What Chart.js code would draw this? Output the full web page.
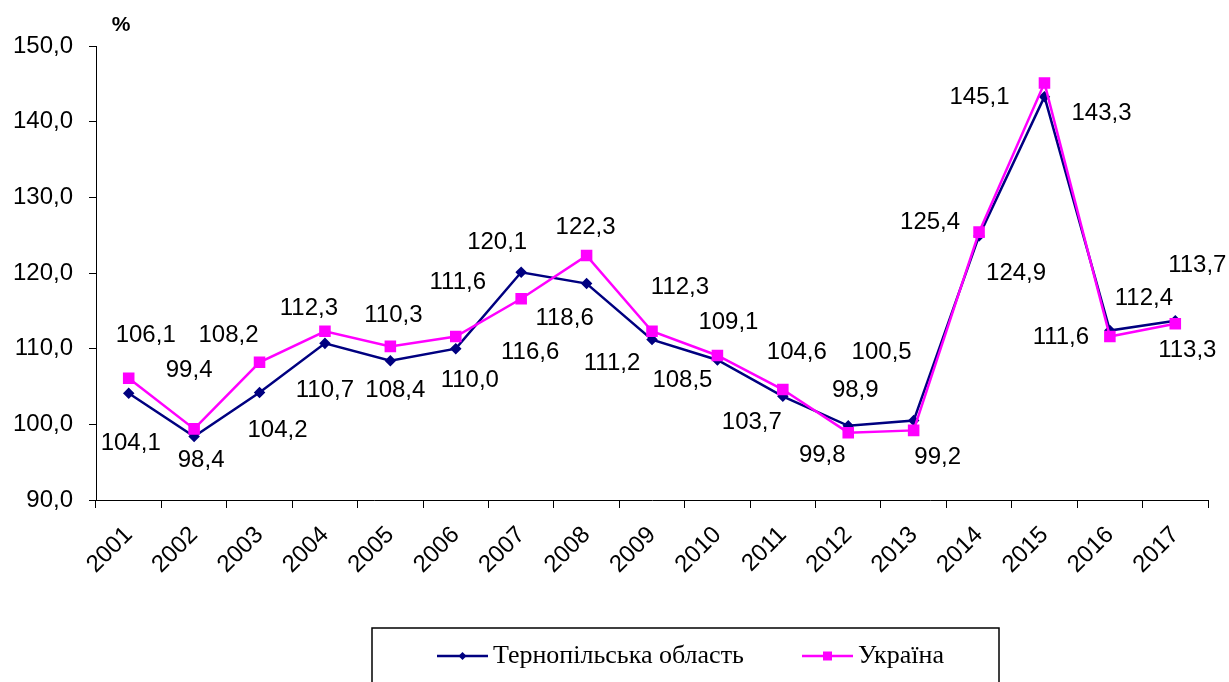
<!DOCTYPE html>
<html>
<head>
<meta charset="utf-8">
<script src="https://cdn.jsdelivr.net/npm/chart.js@4"></script>
<style>
  body { margin: 0; background: #fff; }
  #wrap { width: 1229px; height: 682px; }
</style>
</head>
<body>
<div id="wrap"><canvas id="chart" width="1229" height="682"></canvas></div>
<script>
// data
const years = ['2001','2002','2003','2004','2005','2006','2007','2008','2009','2010','2011','2012','2013','2014','2015','2016','2017'];
const ternopil = [104.1, 98.4, 104.2, 110.7, 108.4, 110.0, 120.1, 118.6, 111.2, 108.5, 103.7, 99.8, 100.5, 124.9, 143.3, 112.4, 113.7];
const ukraine  = [106.1, 99.4, 108.2, 112.3, 110.3, 111.6, 116.6, 122.3, 112.3, 109.1, 104.6, 98.9, 99.2, 125.4, 145.1, 111.6, 113.3];
const seriesNames = ['Тернопільська область', 'Україна'];

// where each value label sits relative to its point (px)
const ternopilLabelShift = [[2,50],[7,24],[18,38],[0,47],[5,30],[14,32],[-24,-30],[-22,35],[-40,24],[-35,20],[-31,26],[-26,30],[-32,-68],[37,37],[57,17],[34,-32],[22,-55]];
const ukraineLabelShift  = [[17,-43],[-5,-58],[-31,-27],[-16,-23],[3,-31],[2,-54],[9,54],[-1,-28],[28,-44],[11,-33],[14,-37],[7,-42],[24,27],[-49,-10],[-65,14],[-49,1],[12,27]];

const sans = 'Arial, "Liberation Sans", sans-serif';
const serif = '"Times New Roman", "Liberation Serif", serif';
const fmt = v => v.toFixed(1).replace('.', ',');

// value labels + "%" + boxed legend
const extras = {
    id: 'extras',
    afterDatasetsDraw(chart) {
        const ctx = chart.ctx;
        const shifts = [ternopilLabelShift, ukraineLabelShift];
        ctx.save();
        ctx.font = '24px ' + sans;
        ctx.fillStyle = '#000';
        ctx.textAlign = 'center';
        ctx.textBaseline = 'middle';
        chart.data.datasets.forEach((ds, di) => {
            chart.getDatasetMeta(di).data.forEach((pt, i) => {
                const s = shifts[di][i];
                ctx.fillText(fmt(ds.data[i]), pt.x + s[0], pt.y + s[1]);
            });
        });

        ctx.font = 'bold 21px ' + sans;
        ctx.fillText('%', 121, 25);

        // legend box (runs off the bottom like the original)
        ctx.lineWidth = 1.5;
        ctx.strokeStyle = '#000';
        ctx.strokeRect(372, 628, 627, 80);
        const items = [{ x: 437, ds: chart.data.datasets[0] }, { x: 802, ds: chart.data.datasets[1] }];
        items.forEach(it => {
            const y = 656;
            ctx.strokeStyle = it.ds.borderColor;
            ctx.lineWidth = 2.5;
            ctx.beginPath();
            ctx.moveTo(it.x, y);
            ctx.lineTo(it.x + 51, y);
            ctx.stroke();
            ctx.fillStyle = it.ds.borderColor;
            const cx = it.x + 25.5;
            if (it.ds.pointStyle === 'rect') {
                ctx.fillRect(cx - 4.5, y - 4.5, 9, 9);
            } else {
                ctx.beginPath();
                ctx.moveTo(cx - 4, y); ctx.lineTo(cx, y - 4); ctx.lineTo(cx + 4, y); ctx.lineTo(cx, y + 4);
                ctx.closePath();
                ctx.fill();
            }
            ctx.fillStyle = '#000';
            ctx.font = '26px ' + serif;
            ctx.textAlign = 'left';
            ctx.fillText(it.ds.label, it.x + 56, y);
        });
        ctx.restore();
    }
};

const ctx = document.getElementById('chart').getContext('2d');
const myChart = new Chart(ctx, {
    type: 'line',
    data: {
        labels: years,
        datasets: [
            {
                label: seriesNames[0],
                data: ternopil,
                borderColor: '#000080',
                backgroundColor: '#000080',
                borderWidth: 2.5,
                pointStyle: 'rectRot',
                pointRadius: 4,
                order: 1
            },
            {
                label: seriesNames[1],
                data: ukraine,
                borderColor: '#ff00ff',
                backgroundColor: '#ff00ff',
                borderWidth: 2.5,
                pointStyle: 'rect',
                pointRadius: 6.4,
                order: 0
            }
        ]
    },
    options: {
        responsive: false,
        animation: false,
        layout: { padding: { top: 46, right: 21, left: 0, bottom: 0 } },
        plugins: {
            legend: { display: false },
            tooltip: { enabled: false }
        },
        scales: {
            x: {
                offset: true,
                grid: { offset: true, drawOnChartArea: false, drawTicks: true, tickLength: 8, color: '#000' },
                border: { display: true, color: '#000', width: 1 },
                ticks: {
                    minRotation: 45, maxRotation: 45, autoSkip: false, padding: 13,
                    color: '#000', font: { family: sans, size: 24 }
                },
                afterFit(scale) { scale.height = 182; }
            },
            y: {
                min: 90, max: 150,
                grid: { drawOnChartArea: false, drawTicks: true, tickLength: 7, color: '#000' },
                border: { display: true, color: '#000', width: 1 },
                ticks: {
                    stepSize: 10, padding: 16, color: '#000',
                    font: { family: sans, size: 24 },
                    callback: v => fmt(v)
                },
                afterFit(scale) { scale.width = 96; }
            }
        }
    },
    plugins: [extras]
});
</script>
</body>
</html>
